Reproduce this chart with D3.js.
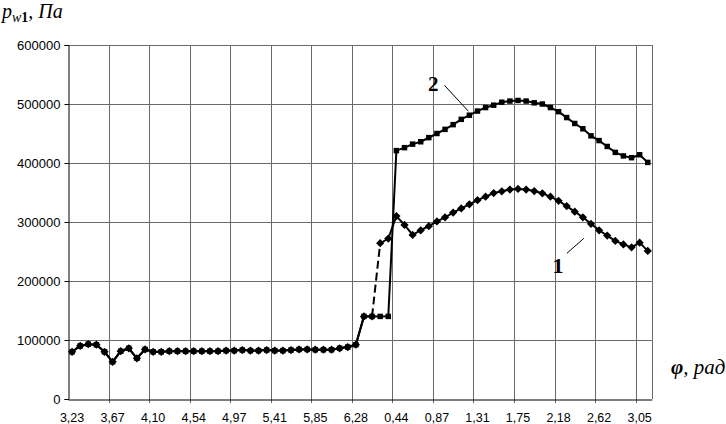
<!DOCTYPE html>
<html>
<head>
<meta charset="utf-8">
<script src="https://cdn.jsdelivr.net/npm/d3@7"></script>
<style>
  html, body { margin: 0; padding: 0; background: #fff; }
  svg { display: block; }
</style>
</head>
<body>
<svg id="chart" width="726" height="424"></svg>
<script>
// ---- DATA ----
const categories = [
  "3,23","3,32","3,40","3,49","3,58","3,67","3,75","3,84","3,93","4,01",
  "4,10","4,19","4,28","4,36","4,45","4,54","4,63","4,71","4,80","4,89",
  "4,97","5,06","5,15","5,24","5,32","5,41","5,50","5,59","5,67","5,76",
  "5,85","5,93","6,02","6,11","6,20","6,28","0,09","0,17","0,26","0,35",
  "0,44","0,52","0,61","0,70","0,79","0,87","0,96","1,05","1,13","1,22",
  "1,31","1,40","1,48","1,57","1,66","1,75","1,83","1,92","2,01","2,09",
  "2,18","2,27","2,36","2,44","2,53","2,62","2,71","2,79","2,88","2,97",
  "3,05","3,14"
];
const tickLabels = ["3,23","3,67","4,10","4,54","4,97","5,41","5,85","6,28","0,44","0,87","1,31","1,75","2,18","2,62","3,05"];
const yTicks = [0, 100000, 200000, 300000, 400000, 500000, 600000];

// curve 1 (diamonds)
const series1 = [
  80000, 90000, 93000, 92000, 80000, 63000, 81000, 86000, 69000, 84000,
  80000, 80000, 81000, 81000, 81000, 81000, 81000, 81000, 81000, 82000,
  82000, 83000, 82000, 82000, 83000, 82000, 82000, 83000, 84000, 84000,
  83500, 83500, 83500, 86000, 88000, 92000, 140000, 140000, 264000, 272000,
  310000, 295000, 278000, 286000, 293000, 301000, 308000, 316000, 323000, 330000,
  337000, 343000, 349000, 352000, 355000, 356000, 355000, 352500, 348600, 343000,
  336000, 327000, 317500, 308000, 297000, 286000, 277000, 268000, 262000, 257000,
  265000, 251000
];
// curve 2 (squares)
const series2 = [
  80000, 90000, 93000, 92000, 80000, 63000, 81000, 86000, 69000, 84000,
  80000, 80000, 81000, 81000, 81000, 81000, 81000, 81000, 81000, 82000,
  82000, 83000, 82000, 82000, 83000, 82000, 82000, 83000, 84000, 84000,
  83500, 83500, 83500, 86000, 88000, 92000, 140000, 140000, 140000, 140000,
  421000, 426000, 432000, 436000, 443000, 450000, 457000, 465000, 474000, 481000,
  488000, 494000, 498000, 503000, 505000, 506000, 505000, 502000, 500000, 494000,
  487000, 477000, 467000, 458000, 446000, 438000, 428000, 418000, 412000, 409000,
  414000, 401000
];
// segment of curve 1 drawn dashed (from category index to next)
const series1Dashed = [37];

// ---- LAYOUT ----
const svg = d3.select("#chart");
const plot = { left: 68, right: 651.8, top: 45, bottom: 399 };

const x = d3.scaleBand().domain(categories).range([plot.left, plot.right]).padding(0);
const xc = c => x(c) + x.bandwidth() / 2;
const y = d3.scaleLinear().domain([0, 600000]).range([plot.bottom, plot.top]);

const gridColor = "#6a6a6a";

// horizontal gridlines
svg.append("g").selectAll("line").data(yTicks.slice(1)).join("line")
  .attr("x1", plot.left).attr("x2", plot.right)
  .attr("y1", d => Math.round(y(d)) + 0.5).attr("y2", d => Math.round(y(d)) + 0.5)
  .attr("stroke", gridColor).attr("stroke-width", 1);

// vertical gridlines at every 5th category boundary (with tick below axis)
const vIdx = d3.range(5, categories.length, 5);
svg.append("g").selectAll("line").data(vIdx).join("line")
  .attr("x1", i => Math.round(x(categories[i])) + 0.5)
  .attr("x2", i => Math.round(x(categories[i])) + 0.5)
  .attr("y1", plot.top).attr("y2", plot.bottom + 4)
  .attr("stroke", gridColor).attr("stroke-width", 1);

// right border
svg.append("line")
  .attr("x1", Math.round(plot.right) + 0.5).attr("x2", Math.round(plot.right) + 0.5)
  .attr("y1", plot.top).attr("y2", plot.bottom)
  .attr("stroke", gridColor).attr("stroke-width", 1);

// y axis
const yAxis = svg.append("g")
  .attr("transform", `translate(${plot.left + 0.5},0)`)
  .call(d3.axisLeft(y).tickValues(yTicks).tickSize(4).tickPadding(4).tickFormat(d3.format("d")));
yAxis.select(".domain").attr("stroke", "#000");
yAxis.selectAll(".tick line").attr("stroke", "#000");
yAxis.selectAll(".tick text")
  .attr("font-family", "Liberation Sans, Arial, sans-serif")
  .attr("font-size", 13).attr("fill", "#000");

// x axis
const xAxis = svg.append("g")
  .attr("transform", `translate(0,${plot.bottom + 0.5})`)
  .call(d3.axisBottom(x).tickValues(tickLabels).tickSize(0).tickSizeOuter(0));
xAxis.select(".domain").attr("stroke", "#000");
xAxis.selectAll(".tick text")
  .attr("font-family", "Liberation Sans, Arial, sans-serif")
  .attr("font-size", 12.5).attr("fill", "#000")
  .attr("y", 22.5).attr("dy", 0);

// ---- SERIES ----
function drawSeries(values, symbolType, size, rotate, dashed) {
  const g = svg.append("g");
  for (let i = 0; i < values.length - 1; i++) {
    g.append("line")
      .attr("x1", xc(categories[i])).attr("y1", y(values[i]))
      .attr("x2", xc(categories[i + 1])).attr("y2", y(values[i + 1]))
      .attr("stroke", "#000").attr("stroke-width", 2)
      .attr("stroke-dasharray", dashed.includes(i) ? "8,4" : null);
  }
  g.selectAll("path").data(values).join("path")
    .attr("d", d3.symbol().type(symbolType).size(size))
    .attr("transform", (d, i) => `translate(${xc(categories[i])},${y(d)}) rotate(${rotate})`)
    .attr("fill", "#000");
}
drawSeries(series1, d3.symbolSquare, 34, 45, series1Dashed);
drawSeries(series2, d3.symbolSquare, 30, 0, []);

// ---- ANNOTATIONS ----
const serif = "Liberation Serif, Times New Roman, serif";
// curve 2 label
{
  const ex = xc(categories[49]) - 1, ey = y(series2[49]) - 4;
  const sx = ex - 24, sy = ey - 26;
  svg.append("line").attr("x1", sx).attr("y1", sy).attr("x2", ex).attr("y2", ey)
    .attr("stroke", "#000").attr("stroke-width", 1);
  svg.append("text").attr("x", sx - 11).attr("y", sy + 6)
    .attr("text-anchor", "middle").attr("font-family", serif)
    .attr("font-weight", "bold").attr("font-size", 21).text("2");
}
// curve 1 label
{
  const ex = xc(categories[63]) + 1, ey = y(series1[63]) + 21;
  const sx = ex - 17, sy = ey + 15;
  svg.append("line").attr("x1", sx).attr("y1", sy).attr("x2", ex).attr("y2", ey)
    .attr("stroke", "#000").attr("stroke-width", 1);
  svg.append("text").attr("x", sx - 9).attr("y", sy + 20)
    .attr("text-anchor", "middle").attr("font-family", serif)
    .attr("font-weight", "bold").attr("font-size", 22).text("1");
}

// axis titles
const yt = svg.append("text").attr("x", 2).attr("y", 18)
  .attr("font-family", serif).attr("font-style", "italic").attr("font-size", 20);
yt.append("tspan").text("p");
yt.append("tspan").attr("dy", 4).attr("font-size", 14).text("w");
yt.append("tspan").attr("font-size", 14).attr("font-weight", "bold").attr("font-style", "normal").text("1");
yt.append("tspan").attr("dy", -4).text(", Па");

const xt = svg.append("text").attr("x", 671).attr("y", 374)
  .attr("font-family", serif).attr("font-style", "italic").attr("font-size", 21);
xt.append("tspan").attr("font-weight", "bold").text("φ");
xt.append("tspan").text(", рад");
</script>
</body>
</html>
